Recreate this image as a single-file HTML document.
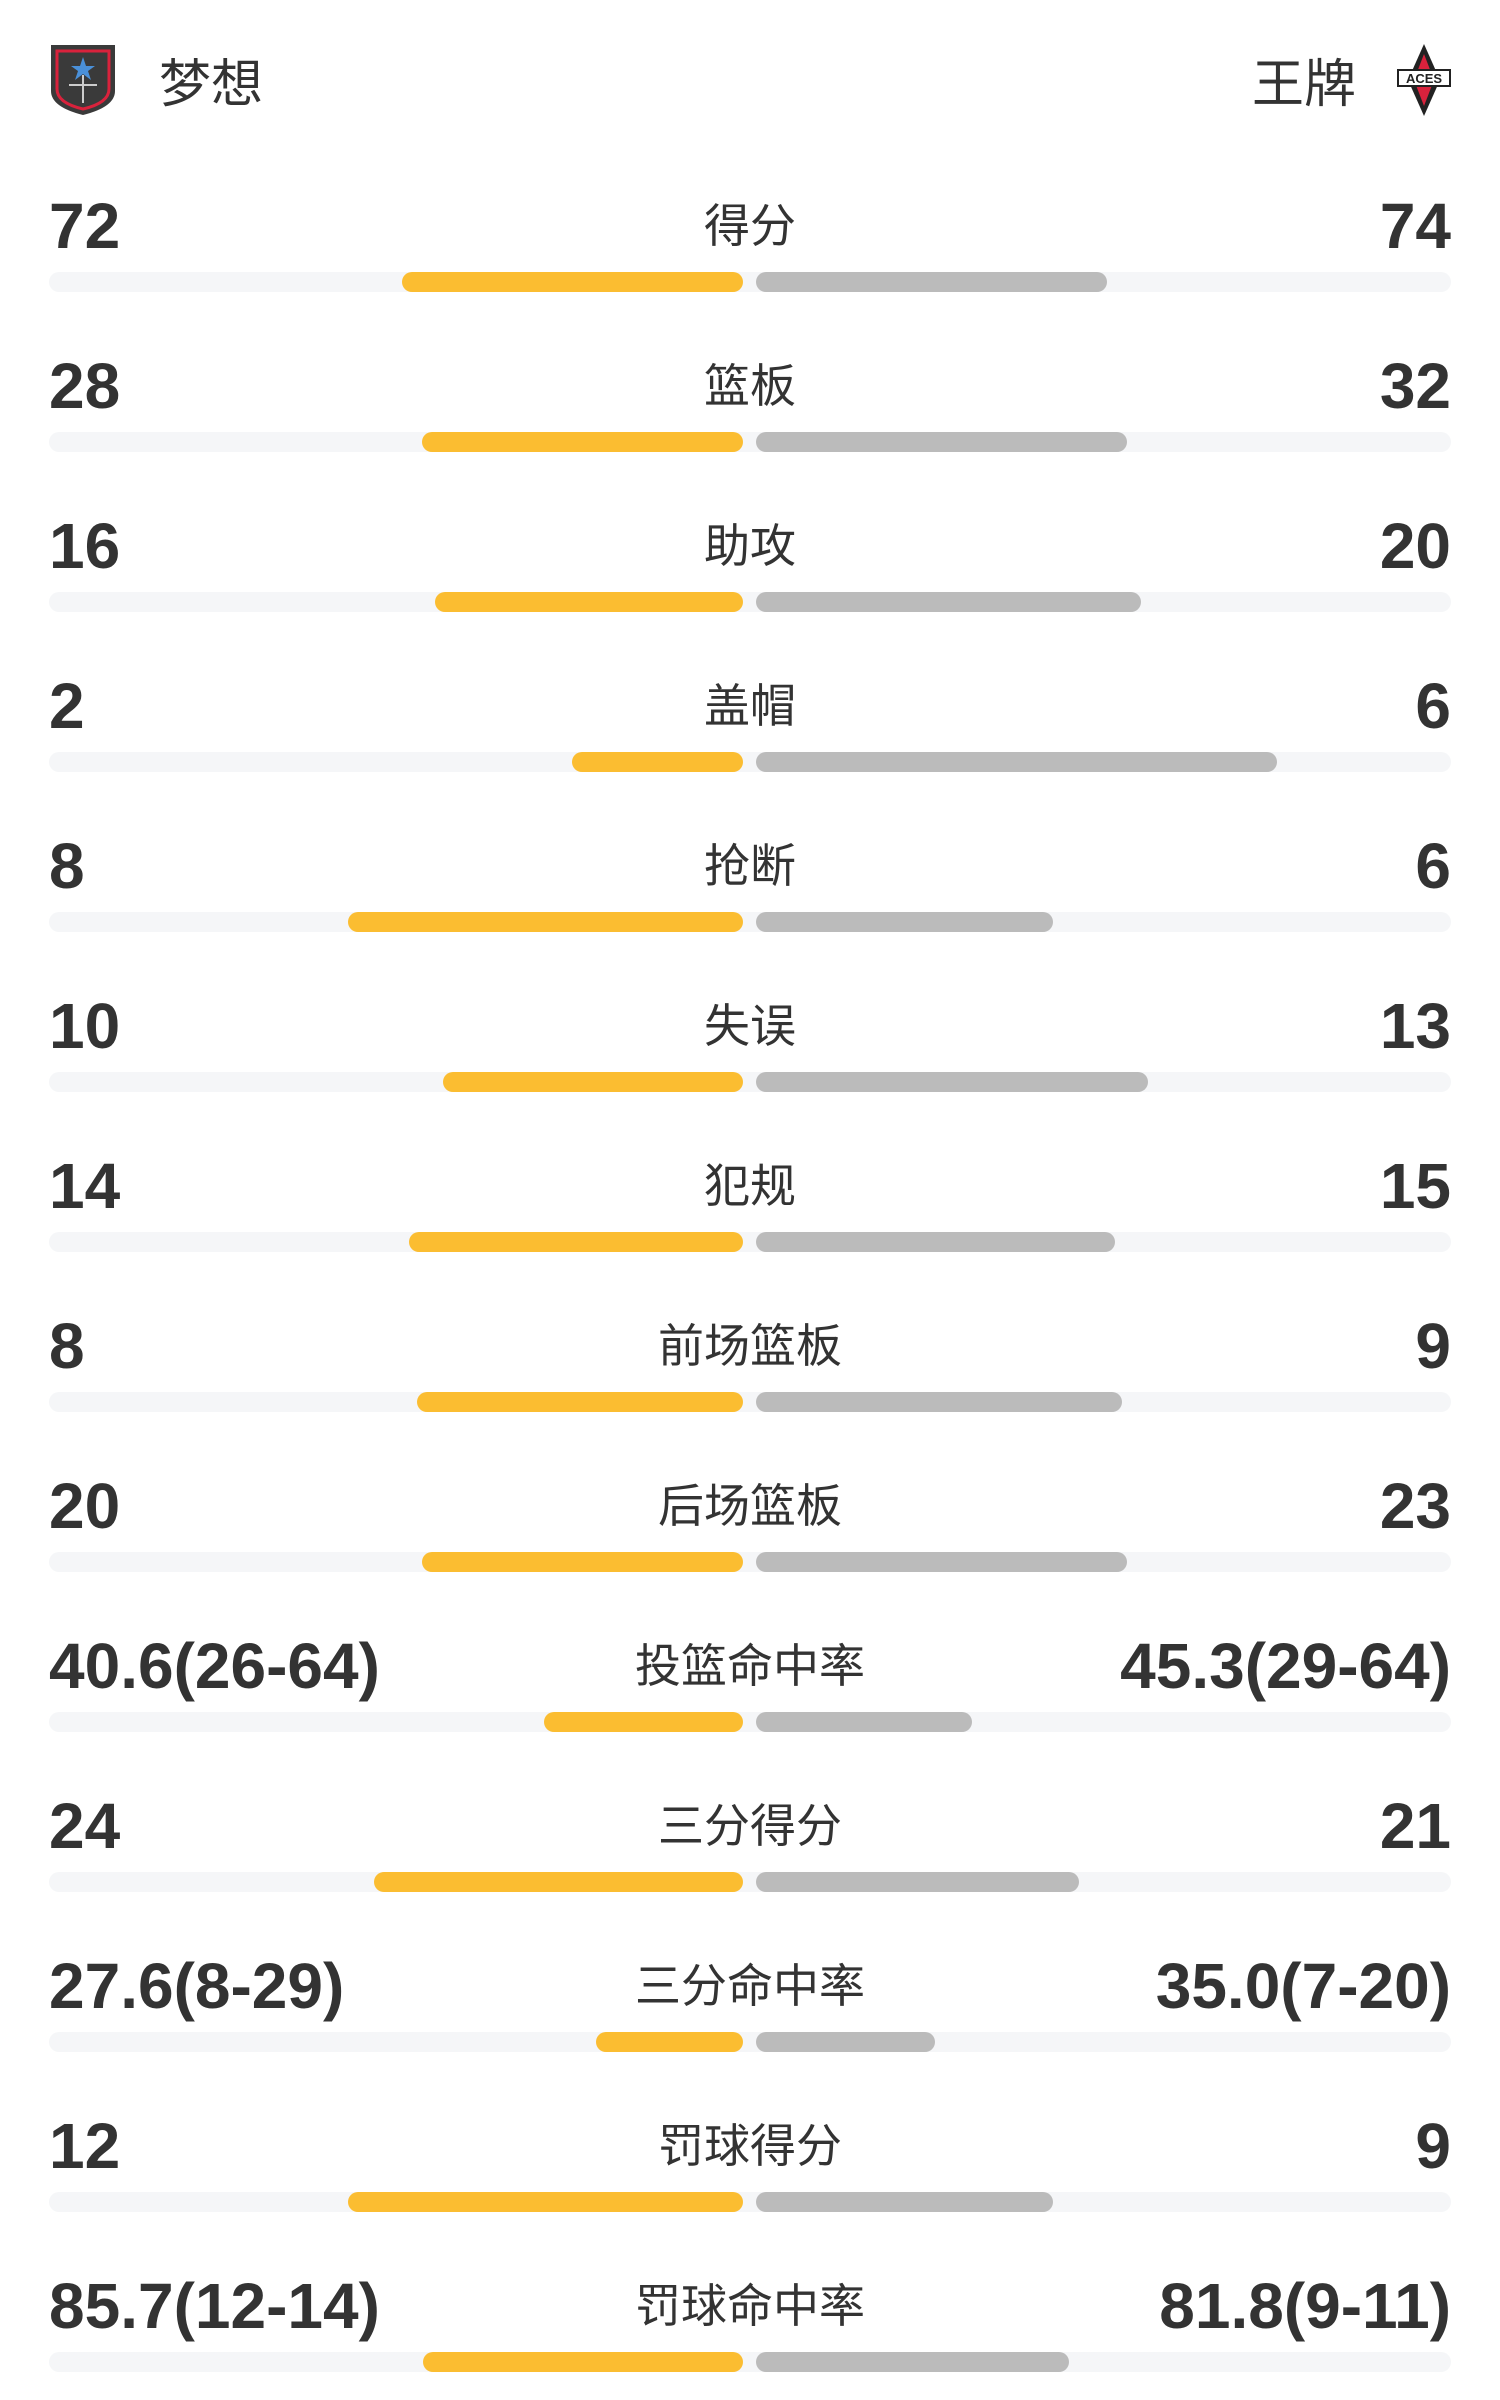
<!DOCTYPE html>
<html><head><meta charset="utf-8"><style>
html,body{margin:0;padding:0;background:#fff;}
body{width:1500px;height:2400px;position:relative;overflow:hidden;font-family:"Liberation Sans","Noto Sans CJK SC",sans-serif;color:#333;}
.num{position:absolute;font-weight:bold;font-size:64px;line-height:63px;white-space:nowrap;}
.l{left:49px;}
.r{right:49px;}
.lab{position:absolute;left:750px;transform:translateX(-50%);font-size:46px;line-height:46px;white-space:nowrap;font-family:"Noto Sans CJK SC",sans-serif;}
.track{position:absolute;left:49px;width:1402px;height:20px;border-radius:10px;background:#f5f6f8;}
.y{position:absolute;height:20px;border-radius:10px;background:#fbbd31;}
.g{position:absolute;height:20px;border-radius:10px;background:#bbbbbb;}
.team{position:absolute;top:52px;font-size:52px;line-height:56px;font-family:"Noto Sans CJK SC",sans-serif;}
</style></head><body>
<svg style="position:absolute;left:49px;top:45px" width="68" height="70" viewBox="0 0 68 70">
<path d="M2 0H66V46Q66 62 34 70Q2 62 2 46Z" fill="#3a3a3a"/>
<path d="M8 6H60V44Q60 58 34 64Q8 58 8 44Z" fill="none" stroke="#d9223c" stroke-width="3"/>
<polygon points="34,12 37,21 46,21 39,26 42,35 34,29 26,35 29,26 22,21 31,21" fill="#4a90d9"/>
<path d="M20 40H48M34 30V58" stroke="#ccc" stroke-width="2"/>
</svg>
<div class="team" style="left:159px">梦想</div>
<div class="team" style="left:1252px">王牌</div>
<svg style="position:absolute;left:1396px;top:44px" width="56" height="72" viewBox="0 0 56 72">
<polygon points="28,0 44,36 28,72 12,36" fill="#222"/>
<polygon points="28,10 38,36 28,62 18,36" fill="#d9223c"/>
<rect x="2" y="26" width="52" height="16" fill="#fff" stroke="#222" stroke-width="2"/>
<text x="28" y="39" font-size="13" font-weight="bold" text-anchor="middle" font-family="Liberation Sans" fill="#222">ACES</text>
</svg>
<div id="rows"></div>
<script>
var d=[["72","得分","74",341,351],["28","篮板","32",321,371],["16","助攻","20",308,385],["2","盖帽","6",171,521],["8","抢断","6",395,297],["10","失误","13",300,392],["14","犯规","15",334,359],["8","前场篮板","9",326,366],["20","后场篮板","23",321,371],["40.6(26-64)","投篮命中率","45.3(29-64)",199,216],["24","三分得分","21",369,323],["27.6(8-29)","三分命中率","35.0(7-20)",147,179],["12","罚球得分","9",395,297],["85.7(12-14)","罚球命中率","81.8(9-11)",320,313]];
var h="";
d.forEach(function(r,i){var o=160*i;
h+='<div class="num l" style="top:'+(195+o)+'px">'+r[0]+'</div>';
h+='<div class="lab" style="top:'+(200+o)+'px">'+r[1]+'</div>';
h+='<div class="num r" style="top:'+(195+o)+'px">'+r[2]+'</div>';
h+='<div class="track" style="top:'+(272+o)+'px"></div>';
h+='<div class="y" style="top:'+(272+o)+'px;left:'+(742.5-r[3])+'px;width:'+r[3]+'px"></div>';
h+='<div class="g" style="top:'+(272+o)+'px;left:756px;width:'+r[4]+'px"></div>';});
document.getElementById("rows").innerHTML=h;
</script>
</body></html>
